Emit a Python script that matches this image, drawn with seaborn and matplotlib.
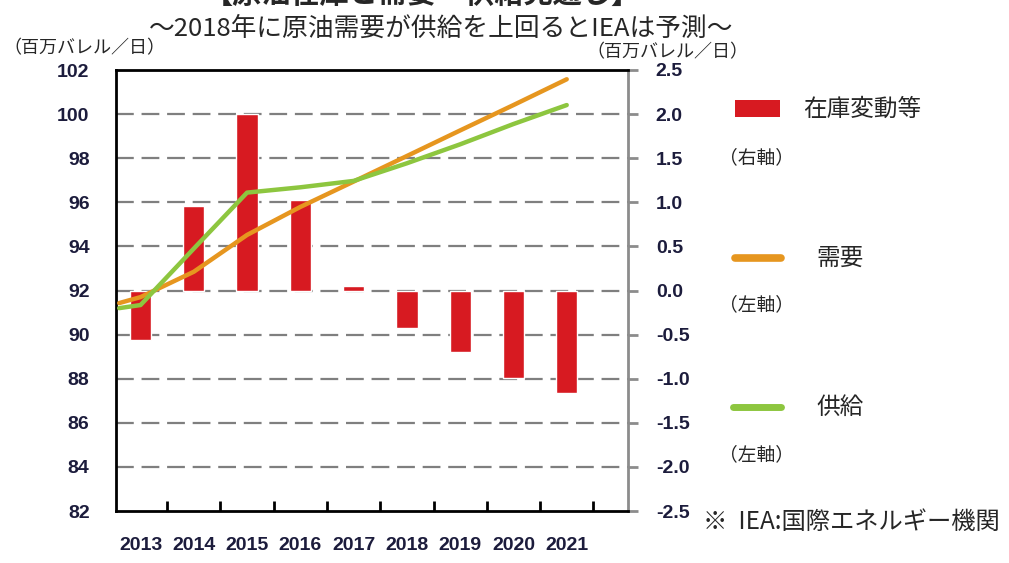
import matplotlib
matplotlib.use('Agg')
import matplotlib.pyplot as plt
import seaborn as sns
import numpy as np
from matplotlib import font_manager as fm
from matplotlib.patches import Rectangle
from matplotlib.lines import Line2D

# ---- data ----
years = ['2013', '2014', '2015', '2016', '2017', '2018', '2019', '2020', '2021']
stock_change = [-0.56, 0.96, 2.0, 1.03, 0.05, -0.42, -0.70, -0.99, -1.16]   # right axis
line_x = [-0.4, 0, 1, 2, 3, 4, 5, 6, 7, 8]
demand = [91.43, 91.7, 92.85, 94.52, 95.79, 96.94, 98.10, 99.26, 100.41, 101.58]  # left axis
supply = [91.2, 91.34, 93.9, 96.44, 96.68, 96.97, 97.77, 98.63, 99.55, 100.41]    # left axis
left_ticks = [82, 84, 86, 88, 90, 92, 94, 96, 98, 100, 102]
right_ticks = [-2.5, -2.0, -1.5, -1.0, -0.5, 0.0, 0.5, 1.0, 1.5, 2.0, 2.5]
right_labels = ['-2.5', '-2.0', '-1.5', '-1.0', '-0.5', '0.0', '0.5', '1.0', '1.5', '2.0', '2.5']

RED = '#D71A21'
ORANGE = '#E6961F'
GREEN = '#8DC63F'
NAVY = '#1c1c3c'

sns.set_style('white')
plt.rcParams['font.family'] = ['Noto Sans CJK JP', 'DejaVu Sans']

names = {f.name for f in fm.fontManager.ttflist}
if 'Liberation Sans Narrow' in names:
    num_font = dict(family='Liberation Sans Narrow', weight='bold', size=15)
else:
    num_font = dict(family='Liberation Sans', weight='bold', size=14)

fig = plt.figure(figsize=(10.09, 5.63), dpi=100)
ax = fig.add_axes([116/1009, 1-511/563, (628-116)/1009, (511-70)/563])

# dashed reference lines at the inner ticks (behind bars)
for v in right_ticks[1:-1]:
    ax.axhline(v, color='#7f7f7f', lw=1.6, linestyle=(0, (8, 3.5)), zorder=0.5)

sns.barplot(x=years, y=stock_change, color=RED, width=0.4, saturation=1, ax=ax, zorder=2)
ax2 = ax.twinx()
sns.lineplot(x=line_x, y=demand, color=ORANGE, lw=3.2, sort=False, ax=ax2)
sns.lineplot(x=line_x, y=supply, color=GREEN, lw=3.2, sort=False, ax=ax2)

# bar axis (right scale)
ax.set_ylim(-2.5, 2.5)
ax.set_xlim(-0.46, 9.15)
ax.yaxis.tick_right()
ax.set_yticks(right_ticks)
ax.set_yticklabels(right_labels)
ax.tick_params(axis='y', which='major', left=False, right=True, labelleft=False, labelright=True,
               direction='out', length=7, width=2, color='#8c8c8c', pad=13, labelcolor=NAVY)
ax.set_xticks(range(len(years)))
ax.set_xticklabels(years)
ax.set_xticks(np.arange(0.5, len(years), 1.0), minor=True)
ax.tick_params(axis='x', which='major', length=0, pad=19, labelcolor=NAVY)
ax.tick_params(axis='x', which='minor', direction='in', length=7, width=2, color='black', bottom=True)
for lab in ax.get_xticklabels() + ax.get_yticklabels():
    lab.set_fontproperties(fm.FontProperties(**num_font))
ax.set_xlabel('')
ax.set_ylabel('')
ax.grid(False)
for side in ['left', 'top', 'bottom']:
    ax.spines[side].set_color('black')
    ax.spines[side].set_linewidth(2)
    ax.spines[side].set_zorder(5)
ax.spines['right'].set_color('#8c8c8c')
ax.spines['right'].set_linewidth(2)

# line axis (left scale)
ax2.set_ylim(82, 102)
ax2.set_xlim(-0.46, 9.15)
ax2.set_yticks(left_ticks)
ax2.set_yticklabels([str(v) for v in left_ticks])
ax2.tick_params(axis='y', left=True, right=False, labelleft=True, labelright=False,
                length=0, pad=19, labelcolor=NAVY)
for lab in ax2.get_yticklabels():
    lab.set_fontproperties(fm.FontProperties(**num_font))
ax2.set_ylabel('')
ax2.grid(False)
for s in ax2.spines.values():
    s.set_visible(False)

# ---- titles / units ----
fig.text(422/1009, 1-9/563, '【原油在庫と需要・供給見通し】', ha='center', va='bottom',
         fontsize=21, fontweight='bold')
fig.text(441/1009, 1-29/563, '～2018年に原油需要が供給を上回るとIEAは予測～', ha='center', va='center',
         fontsize=18.5)
fig.text(3/1009, 1-48/563, '（百万バレル／日）', ha='left', va='center', fontsize=13)
fig.text(586/1009, 1-52/563, '（百万バレル／日）', ha='left', va='center', fontsize=13)

# ---- legend (manual) ----
def fx(px):
    return px/1009
def fy(py):
    return 1-py/563

fig.add_artist(Rectangle((fx(735), fy(117)), fx(780)-fx(735), fy(100)-fy(117),
                         transform=fig.transFigure, color=RED, lw=0))
fig.text(fx(803), fy(109), '在庫変動等', ha='left', va='center', fontsize=17)
fig.text(fx(719), fy(158), '（右軸）', ha='left', va='center', fontsize=13.5)
fig.add_artist(Line2D([fx(735), fx(781)], [fy(258), fy(258)], transform=fig.transFigure,
                      color=ORANGE, lw=5.5))
fig.text(fx(816), fy(258), '需要', ha='left', va='center', fontsize=17)
fig.text(fx(719), fy(305), '（左軸）', ha='left', va='center', fontsize=13.5)
fig.add_artist(Line2D([fx(733), fx(781)], [fy(407), fy(407)], transform=fig.transFigure,
                      color=GREEN, lw=5))
fig.text(fx(816), fy(407), '供給', ha='left', va='center', fontsize=17)
fig.text(fx(719), fy(455), '（左軸）', ha='left', va='center', fontsize=13.5)
fig.text(fx(703), fy(522), '※  IEA:国際エネルギー機関', ha='left', va='center', fontsize=17.5)

fig.savefig('out.png', dpi=100)
